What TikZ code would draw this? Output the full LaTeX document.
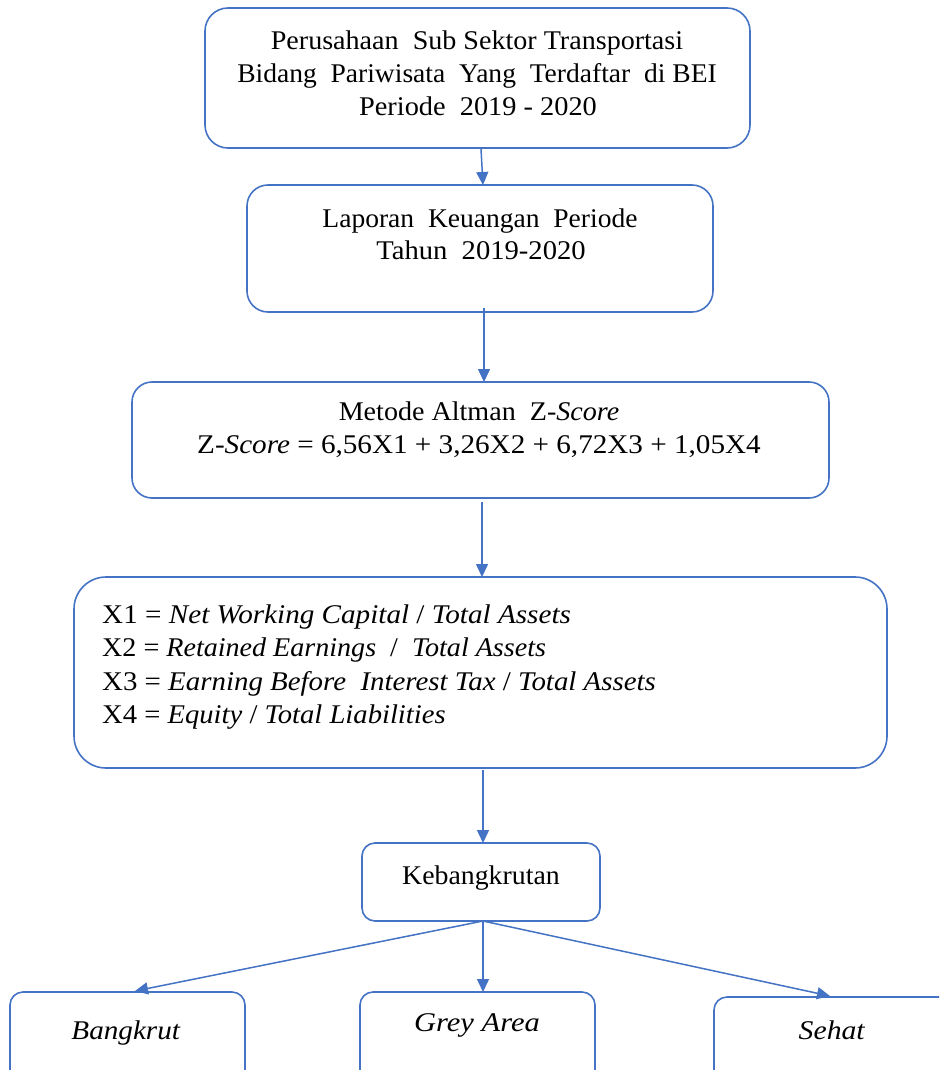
\documentclass[tikz,border=0pt]{standalone}
\usepackage{graphicx}
\usepackage{fontspec}
\setmainfont{Liberation Serif}[ItalicFont={Liberation Serif Italic},BoldFont={Liberation Serif Bold}]
\usetikzlibrary{arrows.meta}
\definecolor{wblue}{HTML}{4472C4}
\newcommand{\hs}[2]{\scalebox{#1}[1]{#2}}
\begin{document}
\begin{tikzpicture}[x=1pt,y=-1pt,
  box/.style={draw=wblue,line width=1.6pt},
  txt/.style={inner sep=0pt,anchor=base,font=\fontsize{27}{32}\selectfont},
  ltxt/.style={inner sep=0pt,anchor=base west,font=\fontsize{27}{32}\selectfont},
  conn/.style={draw=wblue,line width=1.5pt,-{Triangle[length=13pt,width=12pt]}}]
\useasboundingbox (0,0) rectangle (939,1070);
\clip (0,0) rectangle (939,1070);
% boxes
\draw[box,rounded corners=23pt] (205,8) rectangle (750,148);
\draw[box,rounded corners=21pt] (247,185) rectangle (713,312);
\draw[box,rounded corners=20pt] (132,382) rectangle (829,498);
\draw[box,rounded corners=32pt] (74,577) rectangle (887,768);
\draw[box,rounded corners=13pt] (362,843) rectangle (600,921);
\draw[box,rounded corners=13pt] (10,992) rectangle (245,1100);
\draw[box,rounded corners=13pt] (360,992) rectangle (595,1100);
\draw[box,rounded corners=13pt] (714,997) rectangle (980,1100);
% named anchors
\coordinate (b1s) at (481,149);
\coordinate (b2n) at (483,185);
\coordinate (b2s) at (484,308);
\coordinate (b3n) at (484,382);
\coordinate (b3s) at (482,502);
\coordinate (b4n) at (482,577);
\coordinate (b4s) at (483,770);
\coordinate (b5n) at (483,843);
\coordinate (b5s) at (483,921);
\coordinate (b6n) at (135,991);
\coordinate (b7n) at (483,992);
\coordinate (b8n) at (830,996);
% texts
\node[txt] (t1a) at (477,50) {\hs{1.04}{Perusahaan\ \ Sub Sektor Transportasi}};
\node[txt] (t1b) at (477,83) {\hs{1.02}{Bidang\ \ Pariwisata\ \ Yang\ \ Terdaftar\ \ di BEI}};
\node[txt] (t1c) at (478,116) {\hs{1.05}{Periode\ \ 2019 - 2020}};
\node[txt] (t2a) at (480,227) {\hs{1.02}{Laporan\ \ Keuangan\ \ Periode}};
\node[txt] (t2b) at (481,259) {\hs{1.06}{Tahun\ \ 2019-2020}};
\node[txt] (t3a) at (479,420) {\hs{1.04}{Metode Altman\ \ Z-\textit{Score}}};
\node[txt] (t3b) at (479,453) {\hs{1.08}{Z-\textit{Score} = 6,56X1 + 3,26X2 + 6,72X3 + 1,05X4}};
\node[ltxt] (t4a) at (102,623) {\hs{1.08}{X1 = \textit{Net Working Capital} / \textit{Total Assets}}};
\node[ltxt] (t4b) at (102,656) {\hs{1.04}{X2 = \textit{Retained Earnings}\ \ /\ \ \textit{Total Assets}}};
\node[ltxt] (t4c) at (102,690) {\hs{1.07}{X3 = \textit{Earning Before\ \ Interest Tax} / \textit{Total Assets}}};
\node[ltxt] (t4d) at (102,723) {\hs{1.06}{X4 = \textit{Equity} / \textit{Total Liabilities}}};
\node[txt] (t5) at (481,884) {\hs{1.03}{Kebangkrutan}};
\node[txt] (t6) at (126,1039) {\hs{1.08}{\textit{Bangkrut}}};
\node[txt] (t7) at (477,1031) {\hs{1.13}{\textit{Grey Area}}};
\node[txt] (t8) at (832,1039) {\hs{1.10}{\textit{Sehat}}};
% connectors
\draw[conn] (b1s) -- (b2n);
\draw[conn] (b2s) -- (b3n);
\draw[conn] (b3s) -- (b4n);
\draw[conn] (b4s) -- (b5n);
\draw[conn] (b5s) -- (b6n);
\draw[conn] (b5s) -- (b7n);
\draw[conn] (b5s) -- (b8n);
\end{tikzpicture}
\end{document}
